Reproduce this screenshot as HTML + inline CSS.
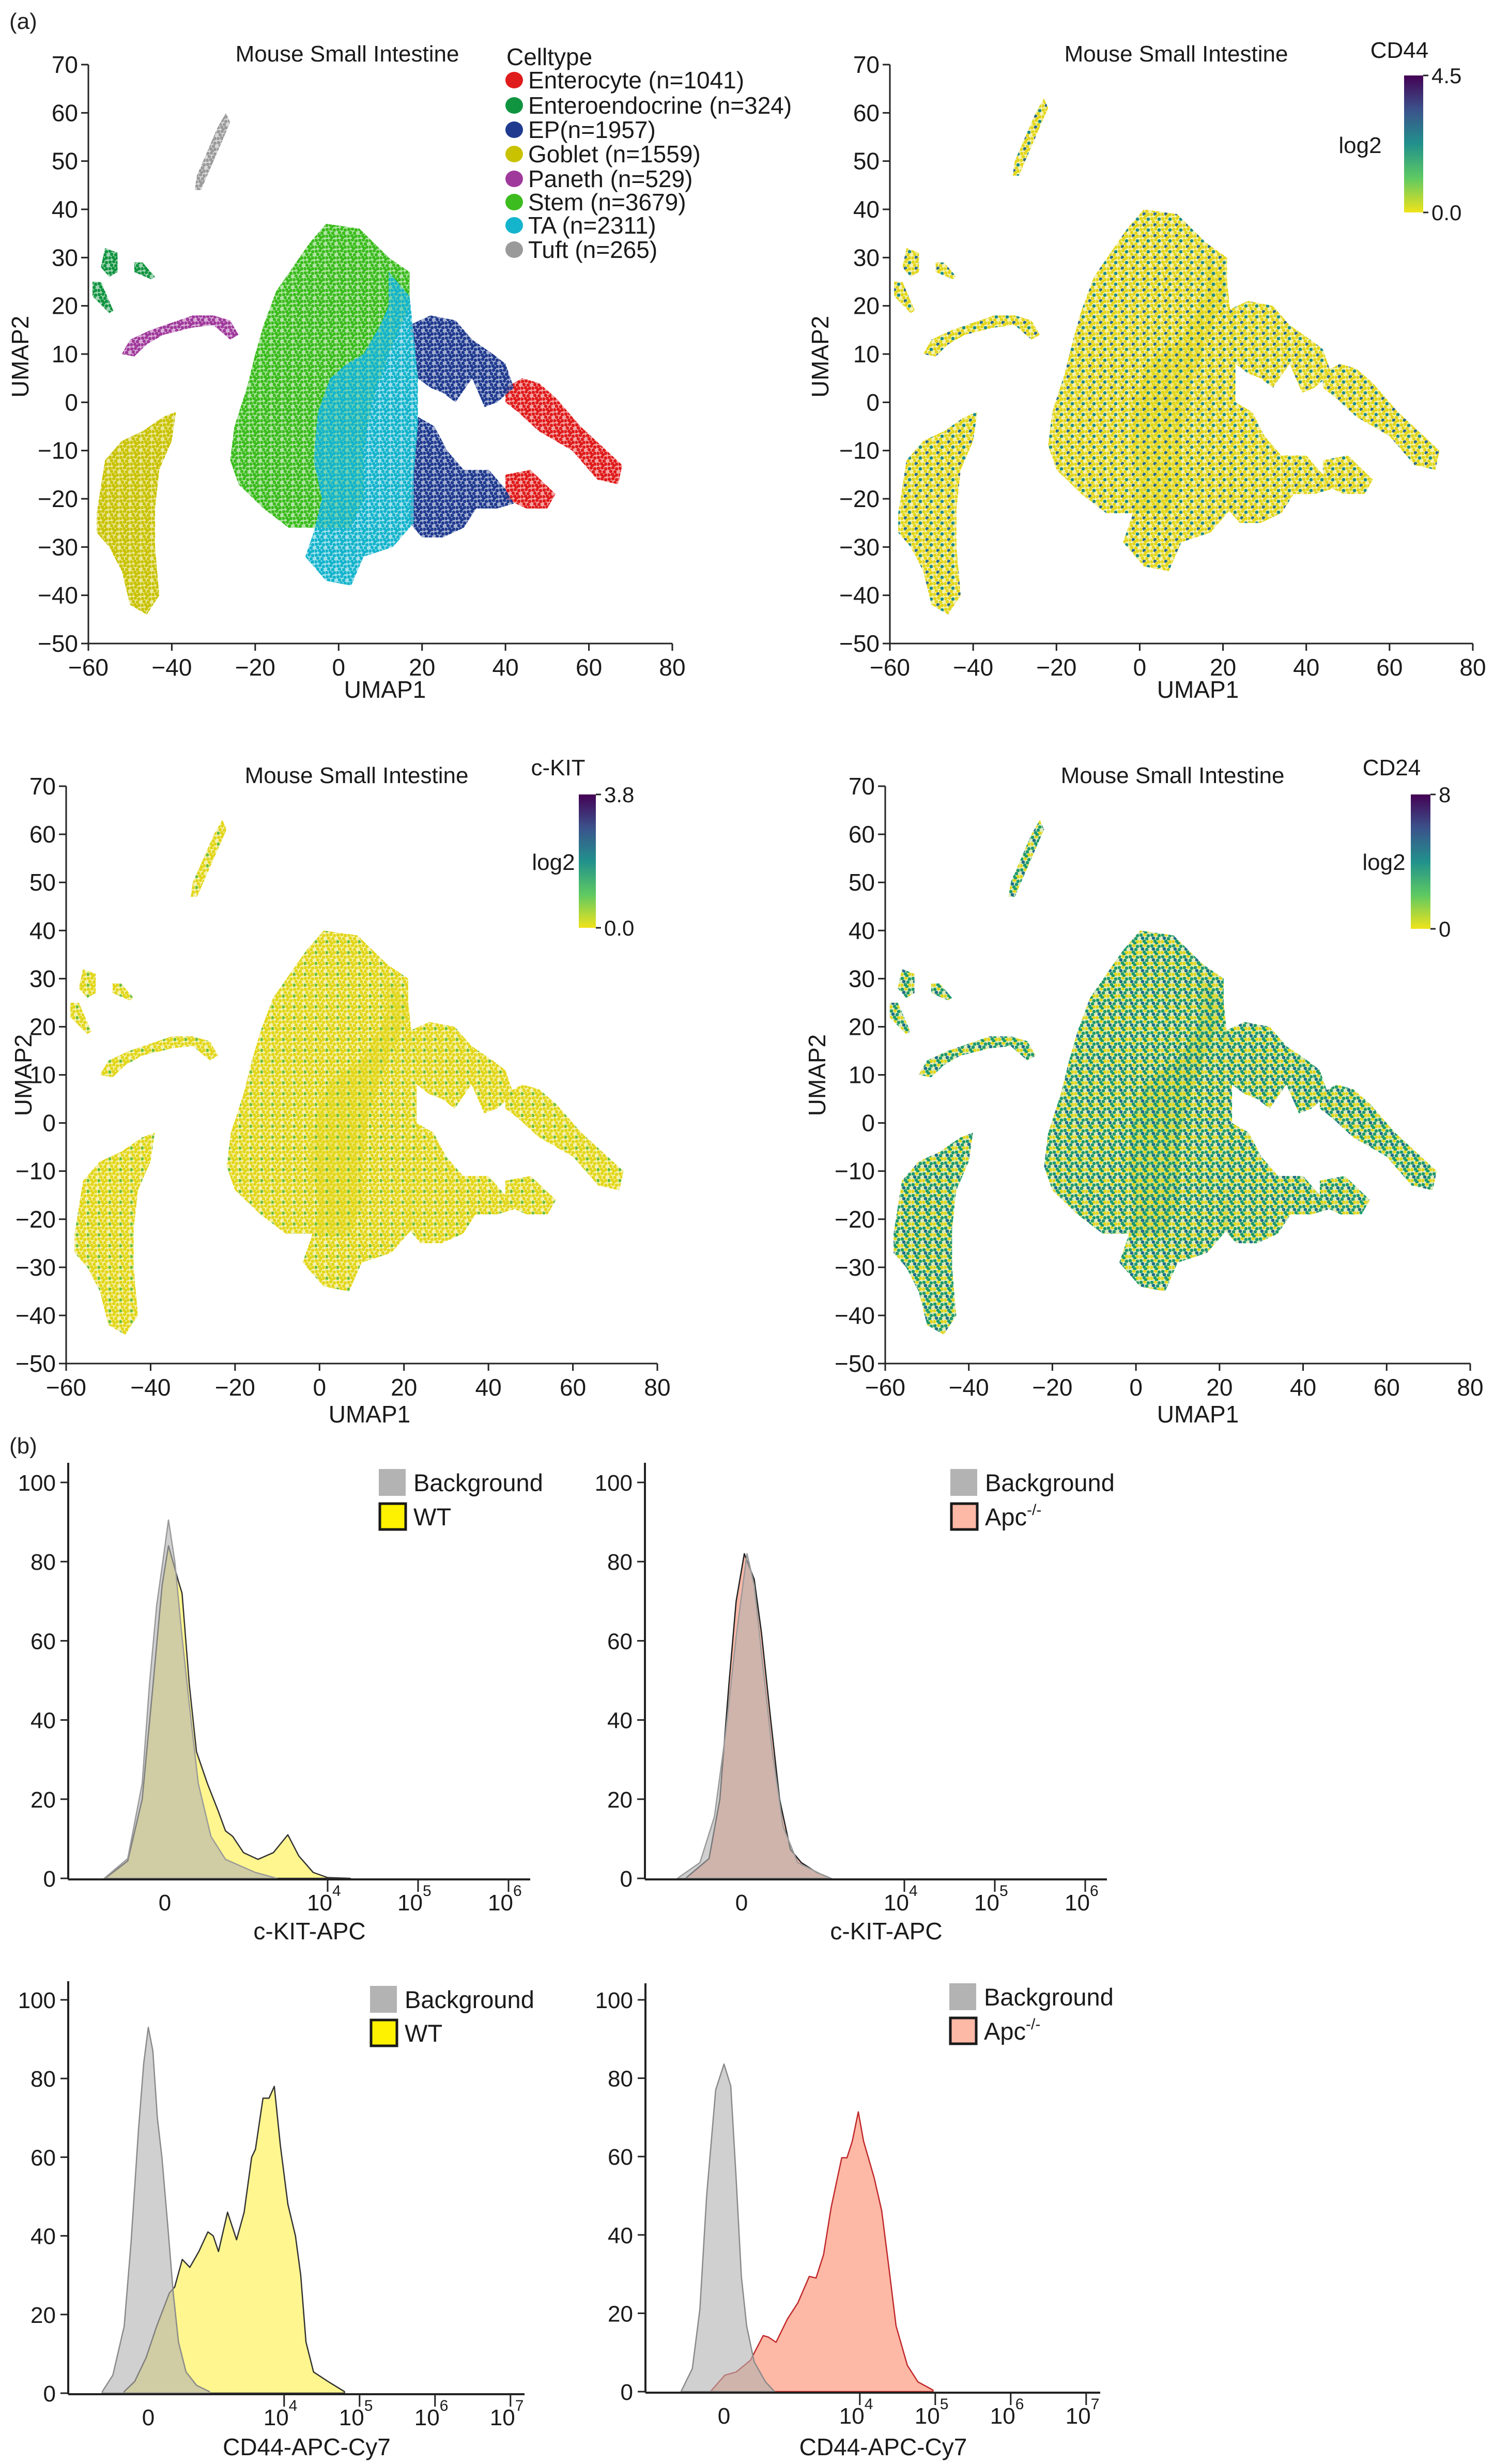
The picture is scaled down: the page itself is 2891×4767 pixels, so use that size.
<!DOCTYPE html>
<html><head><meta charset="utf-8"><style>
html,body{margin:0;padding:0;background:#fff}
svg{display:block;font-family:"Liberation Sans",Arial,sans-serif}
</style></head><body>
<svg id="fig" xmlns="http://www.w3.org/2000/svg" width="2891" height="4767" viewBox="0 0 2891 4767">
<rect width="2891" height="4767" fill="#fff"/>
<defs id="defs"></defs>
<text x="18" y="56" font-size="44" fill="#222">(a)</text>
<text x="18" y="2812" font-size="44" fill="#222">(b)</text>
</svg>
<script>
// ---------- UMAP data (outlines of point clouds, UMAP coordinates) ----------
const clusterNames=["Enterocyte (n=1041)","Enteroendocrine (n=324)","EP(n=1957)","Goblet (n=1559)","Paneth (n=529)","Stem (n=3679)","TA (n=2311)","Tuft (n=265)"];
const clusterColors=["#e01b1b","#119440","#1f3a8f","#c9c200","#a0399c","#3cbc1e","#14b4cc","#9a9a9a"];
const stemOutline=[[-3,37],[5,36],[12,30],[17,27],[17,20],[12,10],[8,0],[6,-10],[6,-20],[3,-26],[-5,-26],[-12,-26],[-18,-22],[-24,-17],[-26,-12],[-25,-5],[-22,3],[-20,10],[-18,16],[-15,23],[-11,28],[-7,33]];
const taOutline=[[12,27],[17,22],[18,14],[19,5],[19,-5],[18,-15],[18,-25],[13,-30],[6,-32],[3,-38],[-3,-37],[-8,-32],[-6,-27],[-4,-20],[-6,-12],[-5,-2],[-2,5],[2,8],[6,10],[10,16],[12,20]];
const epUpperOutline=[[17,16],[22,18],[28,17],[32,13],[37,10],[40,8],[42,3],[38,0],[35,-1],[32,5],[28,0],[25,2],[22,3],[19,5],[18,12]];
const epLowerOutline=[[19,-3],[23,-5],[26,-10],[30,-14],[36,-14],[40,-18],[42,-21],[38,-22],[33,-22],[30,-26],[25,-28],[20,-28],[17,-25],[18,-12]];
const enteroUpperOutline=[[40,3],[44,5],[48,4],[52,1],[58,-5],[63,-9],[68,-13],[67,-17],[62,-16],[56,-10],[48,-6],[43,-2],[40,0]];
const enteroLowerOutline=[[40,-15],[46,-14],[52,-19],[50,-22],[45,-22],[40,-20]];
const gobletOutline=[[-58,-23],[-56,-12],[-52,-8],[-47,-6],[-42,-3],[-39,-2],[-40,-8],[-43,-14],[-44,-22],[-44,-30],[-43,-40],[-46,-44],[-50,-42],[-52,-35],[-55,-30],[-58,-27]];
const panethOutline=[[-52,10],[-50,13],[-45,15],[-40,16.5],[-35,18],[-30,18],[-26,17],[-24,14],[-26,13],[-30,16],[-35,15.5],[-42,14],[-46,12],[-49,9.5]];
const eecOutlineA=[[-56,32],[-53,31],[-53,27],[-55,26],[-57,28]];
const eecOutlineB=[[-49,29],[-47,29],[-44,26],[-45,25.5],[-49,27]];
const eecOutlineC=[[-59,25],[-57,25],[-54,19],[-55,18.5],[-59,22]];
const tuftOutline=[[-34.5,44],[-33,44],[-26,58],[-27,60],[-29,57],[-34,47]];
const xTicksUmap=[-60,-40,-20,0,20,40,60,80];
const yTicksUmap=[70,60,50,40,30,20,10,0,-10,-20,-30,-40,-50];
// ---------- Flow histogram data (x in axis channel units: 10^4 = 4) ----------
const kitWtX=[1.54,1.79,1.95,2.07,2.17,2.24,2.35,2.39,2.47,2.55,2.67,2.79,2.87,2.95,3.07,3.23,3.40,3.56,3.68,3.84,4.0,4.25];
const kitWtY=[0,4.4,20,49,74,84,75,72,49,32,24,17,12,10.6,6.5,4.8,6.5,11,5.7,1.5,0.2,0];
const kitBg1X=[1.53,1.79,1.95,2.03,2.11,2.19,2.24,2.31,2.39,2.47,2.57,2.71,2.87,3.2,3.44];
const kitBg1Y=[0,5,24,49,69,82,90.5,80,61,44,24,10.6,4.8,1.5,0];
const kitApcX=[1.58,1.84,1.96,2.06,2.14,2.23,2.34,2.42,2.52,2.62,2.74,2.86,3.03,3.19];
const kitApcY=[0,5,20,49,70,82,75.5,62,40.5,20,7.3,4,1.5,0];
const kitBg2X=[1.49,1.74,1.9,2.02,2.14,2.26,2.34,2.42,2.54,2.66,2.82,3.11,3.19];
const kitBg2Y=[0,4,15.6,36,61,82,74,57,32,13,4,0.7,0];
const cd44WtX=[1.88,2.02,2.17,2.31,2.48,2.55,2.6,2.65,2.75,2.87,2.99,3.06,3.13,3.25,3.37,3.47,3.57,3.62,3.72,3.8,3.87,3.95,4.05,4.15,4.22,4.29,4.39,4.58,4.8];
const cd44WtY=[0.4,3,9,17,25.5,27,30.5,34,32,36,41,40,36,46,39,46,60,62,75,75,78,63,48,40,30,13,5.4,3,0.4];
const cd44Bg1X=[1.59,1.73,1.88,1.97,2.07,2.14,2.2,2.26,2.32,2.38,2.46,2.53,2.6,2.7,2.84,3.01];
const cd44Bg1Y=[0.4,4.6,17,38,67,84,93,87,70,60,42,25.5,13,5.4,2,0.4];
const cd44ApcX=[2.02,2.21,2.36,2.55,2.72,2.79,2.89,3.04,3.18,3.33,3.42,3.52,3.62,3.76,3.83,3.9,3.98,4.05,4.19,4.29,4.39,4.48,4.63,4.77,4.97];
const cd44ApcY=[0,4.2,5,8,14.3,13.9,12.6,18.5,22.7,29.4,29,35,47,59.7,59.7,63.9,71.4,63.9,54.6,46.2,31,16.8,6.7,2.5,0.4];
const cd44Bg2X=[1.63,1.78,1.88,1.97,2.09,2.2,2.29,2.36,2.43,2.5,2.6,2.75,2.87];
const cd44Bg2Y=[0,5.9,21,50,77,83.6,78,54.6,29.4,16.8,7.6,2.5,0];
const histYTicks=[0,20,40,60,80,100];

const NS='http://www.w3.org/2000/svg';
const svg=document.getElementById('fig');
const defs=document.getElementById('defs');
function mk(tag,parent,o){const e=document.createElementNS(NS,tag);for(const k in (o||{}))e.setAttribute(k,o[k]);parent.appendChild(e);return e;}
function txt(parent,x,y,s,size,anchor,o){const t=mk('text',parent,Object.assign({x:x,y:y,'font-size':size,'text-anchor':anchor||'start',fill:'#1a1a1a'},o||{}));t.textContent=s;return t;}

function dotPattern(id,bg,dots){
  const p=mk('pattern',defs,{id:id,width:21,height:21,patternUnits:'userSpaceOnUse'});
  mk('rect',p,{width:21,height:21,fill:bg.c,'fill-opacity':bg.o});
  dots.forEach(d=>mk('circle',p,{cx:d[0],cy:d[1],r:3.3,fill:d[2]}));
}
const dpos=[[3,3],[10,2],[17,4],[6,9],[14,10],[2,16],[9,15],[17,16],[12,19]];
clusterColors.forEach((c,i)=>dotPattern('pat'+i,{c:c,o:0.4},dpos.map(p=>[p[0],p[1],c])));
const Y='#e2d61a';
dotPattern('pat-cd44',{c:Y,o:0.35},dpos.map((p,i)=>[p[0],p[1],i==2?'#1e8a8a':(i==6?'#2d6a8e':Y)]));
dotPattern('pat-ckit',{c:Y,o:0.35},dpos.map((p,i)=>[p[0],p[1],i==5?'#6cbf3a':Y]));
dotPattern('pat-cd24',{c:'#9fc63a',o:0.35},dpos.map((p,i)=>[p[0],p[1],(i%2==0)?'#1f9a6e':(i==3?'#1f6e8a':Y)]));
const grad=mk('linearGradient',defs,{id:'viridis',x1:0,y1:0,x2:0,y2:1});
[['0','#440154'],['0.25','#3b528b'],['0.5','#21918c'],['0.75','#5ec962'],['1','#f0e31a']].forEach(s=>mk('stop',grad,{offset:s[0],'stop-color':s[1]}));

// [outline, cluster index, is main body, is tuft]
const outlines=[[enteroUpperOutline,0,1,0],[enteroLowerOutline,0,1,0],[eecOutlineA,1,0,0],[eecOutlineB,1,0,0],[eecOutlineC,1,0,0],[epUpperOutline,2,1,0],[epLowerOutline,2,1,0],[gobletOutline,3,0,0],[panethOutline,4,0,0],[stemOutline,5,1,0],[taOutline,6,1,0],[tuftOutline,7,0,1]];

const umapPanels=[
 {x0:171,x1:1301,y0:125,y1:1245,mode:'celltype',name:'umap-celltype',ylab:[55,690],xlab:[745,1350],sh:[0,0]},
 {x0:1722,x1:2850,y0:125,y1:1245,mode:'cd44',name:'umap-cd44',marker:'CD44',max:'4.5',min:'0.0',cb:[2717,146,37,265],ml:[2708,112],ll:[2632,296],ylab:[1603,690],xlab:[2318,1350],sh:[4,3]},
 {x0:128,x1:1272,y0:1521,y1:2638,mode:'ckit',name:'umap-ckit',marker:'c-KIT',max:'3.8',min:'0.0',cb:[1120,1537,33,258],ml:[1080,1500],ll:[1071,1683],ylab:[61,2080],xlab:[715,2752],sh:[4,3]},
 {x0:1713,x1:2845,y0:1521,y1:2638,mode:'cd24',name:'umap-cd24',marker:'CD24',max:'8',min:'0',cb:[2730,1537,38,260],ml:[2693,1500],ll:[2678,1683],ylab:[1597,2080],xlab:[2318,2752],sh:[4,3]}
];
umapPanels.forEach(P=>{
  const g=mk('g',svg);
  
  
  const sx=v=>P.x0+(v+60)/140*(P.x1-P.x0);
  const sy=v=>P.y0+(70-v)/120*(P.y1-P.y0);
  outlines.forEach(o=>{
    const dx=(o[2]||o[3])?P.sh[0]:0, dy=(o[2]||o[3])?P.sh[1]:0;
    const pts=o[0].map(p=>sx(p[0]+dx).toFixed(1)+','+sy(p[1]+dy).toFixed(1)).join(' ');
    const fill=P.mode==='celltype'?'url(#pat'+o[1]+')':'url(#pat-'+P.mode+')';
    const poly=mk('polygon',g,{points:pts,fill:fill,stroke:'none'});
    
    
  });
  const ax=mk('g',g,{stroke:'#222','stroke-width':3,fill:'none'});
  
  
  mk('line',ax,{x1:P.x0,y1:P.y0,x2:P.x0,y2:P.y1});
  mk('line',ax,{x1:P.x0,y1:P.y1,x2:P.x1,y2:P.y1});
  xTicksUmap.forEach(v=>{mk('line',ax,{x1:sx(v),y1:P.y1,x2:sx(v),y2:P.y1+14});
    const t=txt(g,sx(v),P.y1+62,String(v).replace('-','\u2212'),46,'middle');
    
    });
  yTicksUmap.forEach(v=>{mk('line',ax,{x1:P.x0-14,y1:sy(v),x2:P.x0,y2:sy(v)});
    const t=txt(g,P.x0-20,sy(v)+16,String(v).replace('-','\u2212'),46,'end');
    
    });
  const t1=txt(g,(P.mode==='celltype'?672:(P.x0+P.x1)/2-10),P.y0-6,'Mouse Small Intestine',44,'middle');
  
  
  const xl=txt(g,P.xlab[0],P.xlab[1],'UMAP1',46,'middle');
  
  
  const yl=txt(g,P.ylab[0],P.ylab[1],'UMAP2',46,'middle',{transform:'rotate(-90 '+P.ylab[0]+' '+P.ylab[1]+')'});
  
  
  if(P.mode==='celltype'){
    const lg=mk('g',g);
    
    
    txt(lg,980,126,'Celltype',46);
    const ys=[155,204,251,298,346,391,436,483];
    clusterNames.forEach((n,i)=>{
      const c=mk('ellipse',lg,{cx:995,cy:ys[i],rx:17,ry:16,fill:clusterColors[i]});
      
      
      const t=txt(lg,1022,ys[i]+16,n,46);
      
      
    });
  } else {
    const cb=mk('rect',g,{x:P.cb[0],y:P.cb[1],width:P.cb[2],height:P.cb[3],fill:'url(#viridis)'});
    
    
    mk('line',g,{x1:P.cb[0]+P.cb[2],y1:P.cb[1],x2:P.cb[0]+P.cb[2]+10,y2:P.cb[1],stroke:'#222','stroke-width':3});
    mk('line',g,{x1:P.cb[0]+P.cb[2],y1:P.cb[1]+P.cb[3],x2:P.cb[0]+P.cb[2]+10,y2:P.cb[1]+P.cb[3],stroke:'#222','stroke-width':3});
    const m=txt(g,P.ml[0],P.ml[1],P.marker,44,'middle');
    
    
    const l=txt(g,P.ll[0],P.ll[1],'log2',44,'middle');
    
    
    const a=txt(g,P.cb[0]+P.cb[2]+16,P.cb[1]+15,P.max,42);
    
    
    const b=txt(g,P.cb[0]+P.cb[2]+16,P.cb[1]+P.cb[3]+15,P.min,42);
    
    
  }
});

// ---------- histograms ----------
const histPanels=[
 {name:'hist-ckit-wt',ox:132,top:2830,y100:2868,y0:3634,xEnd:1026,zero:319,dec:175,ticks:[4,5,6],label:'c-KIT-APC',labY:3752,leg:[733,2842,2909,800],legName:'WT',legFill:'#fff200',
  series:[[kitWtX,kitWtY,'#fff68f','#333',1],[kitBg1X,kitBg1Y,'#b0b0b0','#9a9a9a',0.6]]},
 {name:'hist-ckit-apc',ox:1248,top:2830,y100:2868,y0:3634,xEnd:2142,zero:1435,dec:175,ticks:[4,5,6],label:'c-KIT-APC',labY:3752,leg:[1839,2842,2909,1906],legName:'Apc',legFill:'#fdb8a6',
  series:[[kitApcX,kitApcY,'#fdb8a6','#222',1],[kitBg2X,kitBg2Y,'#b0b0b0','#9a9a9a',0.6]]},
 {name:'hist-cd44-wt',ox:132,top:3833,y100:3869,y0:4630,xEnd:1015,zero:287,dec:146,ticks:[4,5,6,7],label:'CD44-APC-Cy7',labY:4750,leg:[716,3842,3908,783],legName:'WT',legFill:'#fff200',
  series:[[cd44WtX,cd44WtY,'#fff68f','#333',1],[cd44Bg1X,cd44Bg1Y,'#b0b0b0','#8a8a8a',0.6]]},
 {name:'hist-cd44-apc',ox:1249,top:3837,y100:3869,y0:4627,xEnd:2129,zero:1401,dec:146,ticks:[4,5,6,7],label:'CD44-APC-Cy7',labY:4750,leg:[1837,3837,3904,1904],legName:'Apc',legFill:'#fdb8a6',
  series:[[cd44ApcX,cd44ApcY,'#fdb8a6','#c0282a',1],[cd44Bg2X,cd44Bg2Y,'#b0b0b0','#8a8a8a',0.6]]}
];
histPanels.forEach(H=>{
  const g=mk('g',svg);
  
  
  const sx=c=>H.zero+(c-2.2)*H.dec;
  const sy=v=>H.y0-(v/100)*(H.y0-H.y100);
  H.series.forEach((s,i)=>{
    let d='M'+sx(s[0][0]).toFixed(1)+','+H.y0;
    s[0].forEach((c,j)=>{d+=' L'+sx(c).toFixed(1)+','+sy(s[1][j]).toFixed(1);});
    d+=' L'+sx(s[0][s[0].length-1]).toFixed(1)+','+H.y0+' Z';
    const p=mk('path',g,{d:d,fill:s[2],'fill-opacity':s[4],stroke:s[3],'stroke-width':2.5,'stroke-linejoin':'round'});
    
    
  });
  const ax=mk('g',g,{stroke:'#222','stroke-width':4,fill:'none'});
  
  
  mk('line',ax,{x1:H.ox,y1:H.top,x2:H.ox,y2:H.y0+2});
  mk('line',ax,{x1:H.ox,y1:H.y0+2,x2:H.xEnd,y2:H.y0+2});
  histYTicks.forEach(v=>{mk('line',ax,{x1:H.ox-15,y1:sy(v),x2:H.ox,y2:sy(v),'stroke-width':3});
    const t=txt(g,H.ox-24,sy(v)+16,String(v),44,'end');
    
    });
  const z=txt(g,H.zero,H.y0+62,'0',44,'middle');
  
  
  H.ticks.forEach(k=>{const x=sx(k);
    mk('line',ax,{x1:x,y1:H.y0+2,x2:x,y2:H.y0+26,'stroke-width':3});
    const t=txt(g,x-40,H.y0+62,'10',44,'start');
    const sp=mk('tspan',t,{dy:-28,'font-size':30});sp.textContent=String(k);
    
    });
  const xl=txt(g,(H.ox+H.xEnd)/2+20,H.labY,H.label,46,'middle');
  
  
  const lg=mk('g',g);
  
  
  const r1=mk('rect',lg,{x:H.leg[0],y:H.leg[1],width:52,height:52,fill:'#b3b3b3'});
  
  
  const t1=txt(lg,H.leg[3],H.leg[1]+43,'Background',47);
  
  
  const r2=mk('rect',lg,{x:H.leg[0]+2,y:H.leg[2],width:50,height:50,fill:H.legFill,stroke:'#1a1a1a','stroke-width':5});
  
  
  const t2=txt(lg,H.leg[3],H.leg[2]+42,H.legName,47);
  if(H.legName==='Apc'){const s=mk('tspan',t2,{dy:-20,'font-size':30});s.textContent='-/-';}
  
  
});
</script>
</body></html>
